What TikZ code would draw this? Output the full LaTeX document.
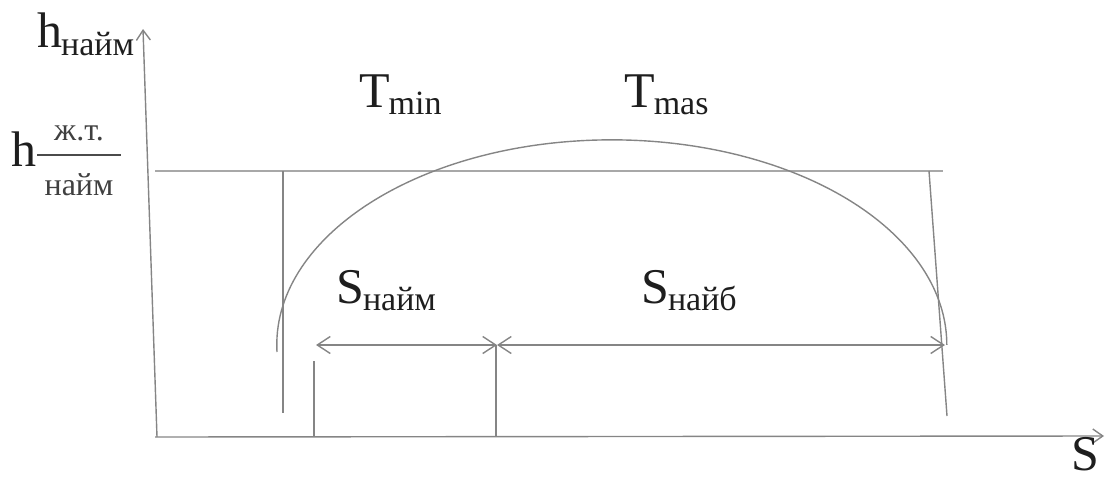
\documentclass[tikz,border=0pt]{standalone}
\usepackage{fontspec}
\newfontfamily\tmsfont{Liberation Serif}
\usetikzlibrary{arrows.meta}
\definecolor{linegray}{HTML}{858585}
\definecolor{lightgray2}{HTML}{A8A8A8}
\definecolor{txt}{HTML}{1E1E1E}
\newcommand{\mylbl}[3]{{\fontsize{50}{50}\tmsfont #1\kern-1pt\raisebox{-#3}{\fontsize{34}{34}\tmsfont #2}}}
\begin{document}
\begin{tikzpicture}[x=1pt,y=-1pt,
  ln/.style={draw=linegray, line width=1.4pt},
  thick ln/.style={draw=lightgray2, line width=2.6pt},
  dbarb/.style={{Straight Barb[length=13pt,width=17pt,line width=1.4pt]}-{Straight Barb[length=13pt,width=17pt,line width=1.4pt]}},
  axarr/.style={-{Straight Barb[length=10pt,width=14pt,line width=1.4pt]}},
  lbl/.style={anchor=base west, inner sep=0pt, text=txt}]
\useasboundingbox (0,0) rectangle (1105,479);
% coordinates
\coordinate (ybot) at (157,437);
\coordinate (ytop) at (143,29);
\coordinate (xleft) at (155,437);
\coordinate (xright) at (1104,436);
\coordinate (hl) at (155,171);
\coordinate (hr) at (943,171);
\coordinate (v1t) at (283,171);
\coordinate (v1b) at (283,413);
\coordinate (v2t) at (929,171);
\coordinate (v2b) at (947,416);
\coordinate (t1t) at (314,361);
\coordinate (t1b) at (314,437);
\coordinate (t2t) at (496,345);
\coordinate (t2b) at (496,437);
\coordinate (a1) at (316,345);
\coordinate (a2) at (497,345);
\coordinate (a3) at (945,345);
\coordinate (arcstart) at (277,352);
% axes
\draw[ln,axarr] (ybot) -- (ytop);
\draw[ln,axarr] (xleft) -- (xright);
% horizontal level line
\draw[thick ln] (hl) -- (hr);
% verticals
\draw[ln] (v1t) -- (v1b);
\draw[ln] (v2t) -- (v2b);
\draw[ln] (t1t) -- (t1b);
\draw[ln] (t2t) -- (t2b);
% arc
\draw[ln] (arcstart) arc[start angle=178, end angle=360, x radius=335, y radius=205];
% dimension arrows
\draw[ln,dbarb] (a1) -- (a2);
\draw[ln,dbarb] (a2) -- (a3);
% labels
\node[lbl] (hnaim) at (37,47) {\mylbl{h}{найм}{8pt}};
\node[lbl] (hfr) at (11,166) {\fontsize{50}{50}\tmsfont h};
\coordinate (fl) at (37,155);
\coordinate (fr) at (121,155);
\draw[draw=txt!80, line width=2pt] (fl) -- (fr);
\node[anchor=base, inner sep=0pt, text=txt!85] (zht) at (79,140) {\fontsize{32}{32}\tmsfont ж.т.};
\node[anchor=base, inner sep=0pt, text=txt!85] (naim) at (79,195) {\fontsize{32}{32}\tmsfont найм};
\node[lbl] (tmin) at (359,107) {\mylbl{T}{min}{7pt}};
\node[lbl] (tmas) at (624,107) {\mylbl{T}{mas}{7pt}};
\node[lbl] (snaim) at (336,303) {\mylbl{S}{найм}{7pt}};
\node[lbl] (snaib) at (641,303) {\mylbl{S}{найб}{7pt}};
\node[lbl] (s) at (1071,470) {\fontsize{50}{50}\tmsfont S};
\end{tikzpicture}
\end{document}
